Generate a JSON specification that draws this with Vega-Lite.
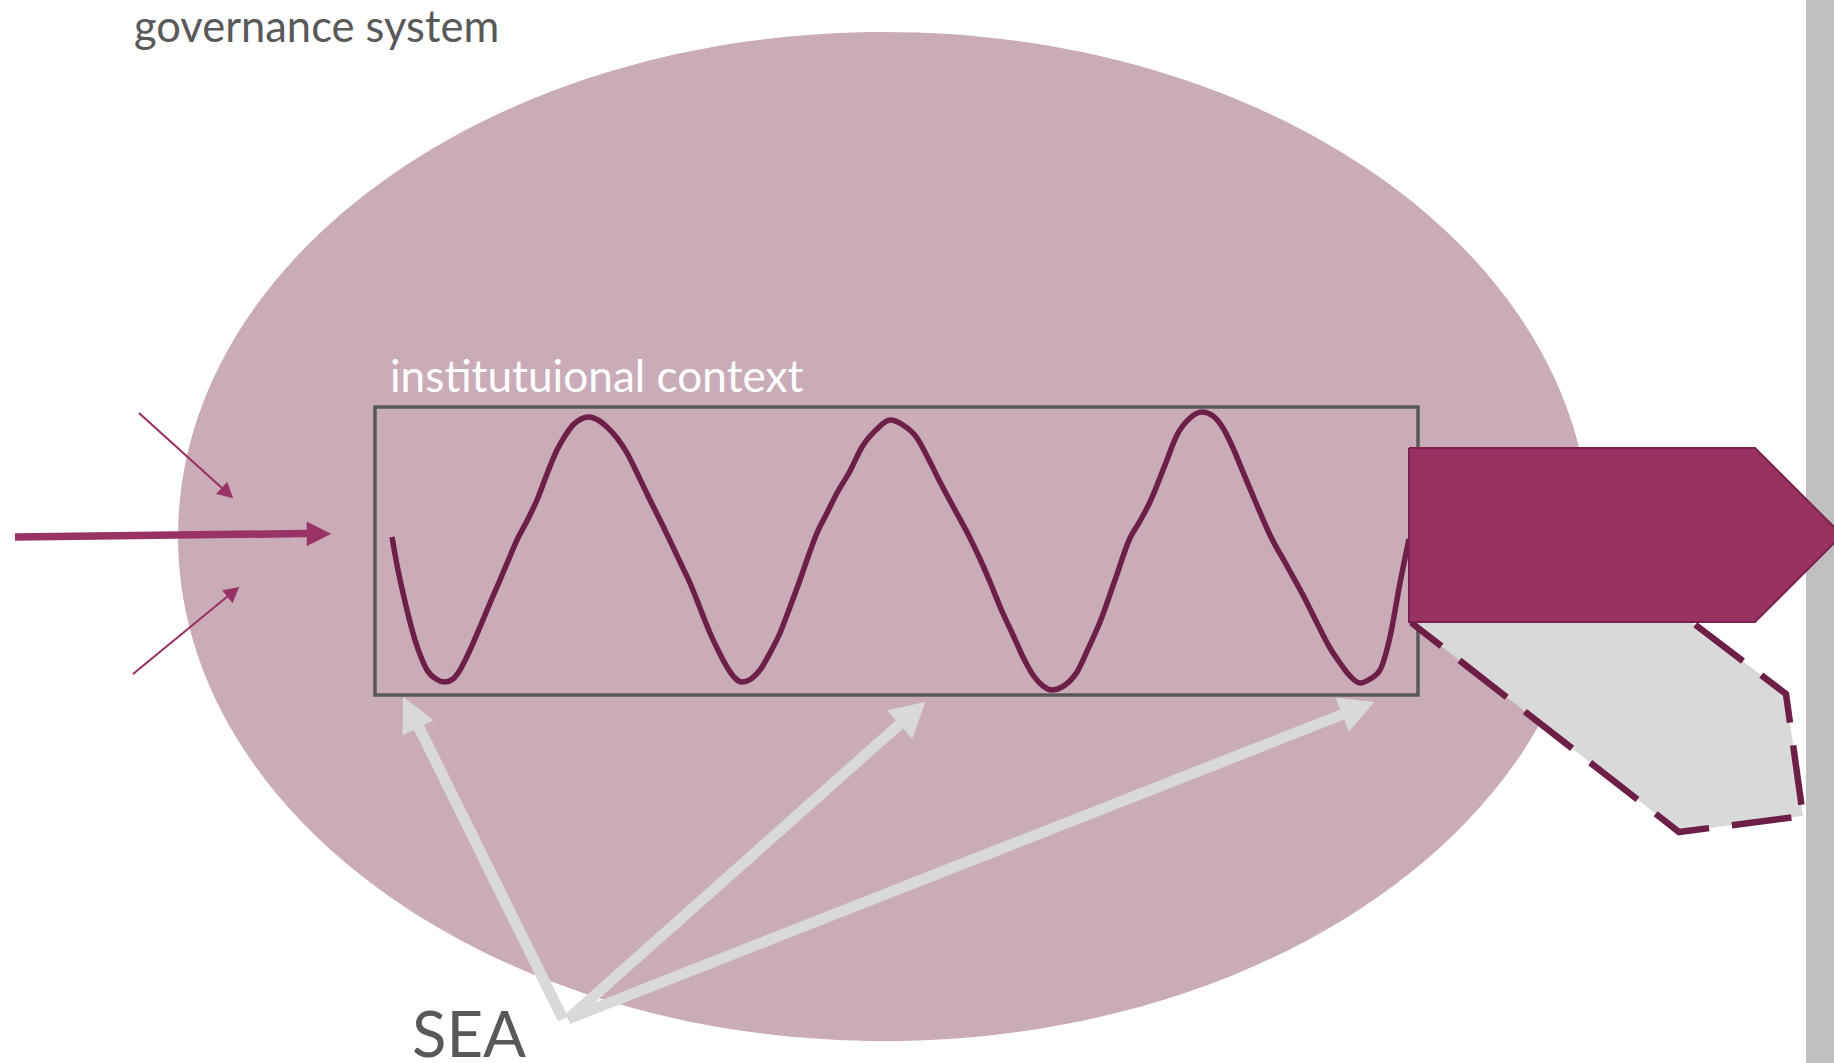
{
  "$schema": "https://vega.github.io/schema/vega-lite/v6.json",
  "width": 1834,
  "height": 1063,
  "autosize": {"type": "none"},
  "padding": 0,
  "background": "white",
  "config": {"view": {"stroke": null}},
  "datasets": {
    "ellipse": [{"name": "governance system", "x": 884, "y": 536.5}],
    "bar": [{"x1": 1806, "x2": 1834, "y1": 0, "y2": 1063}],
    "frame": [{"name": "institutional context", "x1": 375, "x2": 1418, "y1": 407, "y2": 695}],
    "wave": [
      {"x": 392, "y": 537}, {"x": 397, "y": 565}, {"x": 403, "y": 593}, {"x": 409, "y": 618}, {"x": 415, "y": 640},
      {"x": 421, "y": 657}, {"x": 427, "y": 670}, {"x": 436, "y": 679}, {"x": 445, "y": 682}, {"x": 453, "y": 679},
      {"x": 460, "y": 670}, {"x": 470, "y": 650}, {"x": 480, "y": 627}, {"x": 490, "y": 603}, {"x": 500, "y": 580},
      {"x": 508, "y": 561}, {"x": 517, "y": 540}, {"x": 527, "y": 521}, {"x": 537, "y": 500}, {"x": 547, "y": 474},
      {"x": 557, "y": 450}, {"x": 565, "y": 436}, {"x": 573, "y": 425}, {"x": 581, "y": 419}, {"x": 589, "y": 417},
      {"x": 598, "y": 420}, {"x": 607, "y": 427}, {"x": 617, "y": 438}, {"x": 627, "y": 453}, {"x": 638, "y": 475},
      {"x": 650, "y": 500}, {"x": 662, "y": 524}, {"x": 673, "y": 547}, {"x": 681, "y": 564}, {"x": 690, "y": 583},
      {"x": 700, "y": 608}, {"x": 710, "y": 633}, {"x": 719, "y": 652}, {"x": 727, "y": 667}, {"x": 734, "y": 677},
      {"x": 742, "y": 682}, {"x": 751, "y": 679}, {"x": 760, "y": 670}, {"x": 770, "y": 653}, {"x": 780, "y": 633},
      {"x": 790, "y": 607}, {"x": 800, "y": 580}, {"x": 808, "y": 557}, {"x": 817, "y": 533}, {"x": 827, "y": 513},
      {"x": 837, "y": 493}, {"x": 850, "y": 471}, {"x": 862, "y": 447}, {"x": 877, "y": 429}, {"x": 890, "y": 420},
      {"x": 903, "y": 425}, {"x": 917, "y": 438}, {"x": 928, "y": 458}, {"x": 940, "y": 482}, {"x": 955, "y": 510},
      {"x": 970, "y": 538}, {"x": 980, "y": 559}, {"x": 990, "y": 582}, {"x": 1001, "y": 609}, {"x": 1013, "y": 635},
      {"x": 1023, "y": 657}, {"x": 1033, "y": 675}, {"x": 1043, "y": 686}, {"x": 1052, "y": 690}, {"x": 1062, "y": 687},
      {"x": 1077, "y": 672}, {"x": 1088, "y": 649}, {"x": 1100, "y": 622}, {"x": 1115, "y": 580}, {"x": 1130, "y": 538},
      {"x": 1140, "y": 521}, {"x": 1150, "y": 502}, {"x": 1165, "y": 465}, {"x": 1177, "y": 435}, {"x": 1190, "y": 418},
      {"x": 1202, "y": 412}, {"x": 1213, "y": 416}, {"x": 1223, "y": 428}, {"x": 1233, "y": 448}, {"x": 1243, "y": 472},
      {"x": 1256, "y": 503}, {"x": 1270, "y": 535}, {"x": 1287, "y": 566}, {"x": 1303, "y": 595}, {"x": 1316, "y": 621},
      {"x": 1330, "y": 648}, {"x": 1340, "y": 663}, {"x": 1350, "y": 676}, {"x": 1360, "y": 683}, {"x": 1370, "y": 679},
      {"x": 1380, "y": 670}, {"x": 1390, "y": 637}, {"x": 1400, "y": 583}, {"x": 1409, "y": 539}
    ],
    "thickShaft": [{"x": 15, "y": 537, "x2": 308, "y2": 533.5}],
    "thinShafts": [
      {"x": 139, "y": 413, "x2": 222.5, "y2": 488.5},
      {"x": 133, "y": 674, "x2": 228, "y2": 596}
    ],
    "seaShafts": [
      {"x": 563, "y": 1019, "x2": 418.5, "y2": 726.5},
      {"x": 568, "y": 1019, "x2": 900.5, "y2": 723.5},
      {"x": 568, "y": 1019, "x2": 1343.5, "y2": 714}
    ],
    "inHeads": [
      {"id": "h0", "i": 0, "x": 331, "y": 534}, {"id": "h0", "i": 1, "x": 307, "y": 522}, {"id": "h0", "i": 2, "x": 307, "y": 546},
      {"id": "h1", "i": 0, "x": 233, "y": 498}, {"id": "h1", "i": 1, "x": 216.5, "y": 493.8}, {"id": "h1", "i": 2, "x": 227.3, "y": 482},
      {"id": "h2", "i": 0, "x": 239, "y": 587}, {"id": "h2", "i": 1, "x": 232.5, "y": 602.7}, {"id": "h2", "i": 2, "x": 222.3, "y": 590.3}
    ],
    "seaHeads": [
      {"id": "s1", "i": 0, "x": 403, "y": 697}, {"id": "s1", "i": 1, "x": 433.2, "y": 720.2}, {"id": "s1", "i": 2, "x": 402.6, "y": 735},
      {"id": "s2", "i": 0, "x": 925, "y": 702}, {"id": "s2", "i": 1, "x": 912.2, "y": 738.7}, {"id": "s2", "i": 2, "x": 887, "y": 710.3},
      {"id": "s3", "i": 0, "x": 1374, "y": 702}, {"id": "s3", "i": 1, "x": 1349, "y": 731.3}, {"id": "s3", "i": 2, "x": 1335.8, "y": 697.8}
    ],
    "hexagon": [
      {"i": 0, "x": 1413, "y": 600}, {"i": 1, "x": 1413, "y": 624}, {"i": 2, "x": 1679, "y": 832},
      {"i": 3, "x": 1803, "y": 816}, {"i": 4, "x": 1786, "y": 694}, {"i": 5, "x": 1676, "y": 610}
    ],
    "pentagon": [
      {"i": 0, "x": 1409, "y": 448}, {"i": 1, "x": 1755, "y": 448}, {"i": 2, "x": 1842, "y": 535},
      {"i": 3, "x": 1755, "y": 622}, {"i": 4, "x": 1409, "y": 622}, {"i": 5, "x": 1409, "y": 448}
    ]
  },
  "layer": [
    {
      "data": {"name": "ellipse"},
      "mark": {
        "type": "point",
        "shape": "M -1 0 C -1 -0.3947 -0.5523 -0.7146 0 -0.7146 C 0.5523 -0.7146 1 -0.3947 1 0 C 1 0.3947 0.5523 0.7146 0 0.7146 C -0.5523 0.7146 -1 0.3947 -1 0 Z",
        "size": 1993744,
        "filled": true,
        "fill": "#CAACB8",
        "strokeWidth": 0,
        "opacity": 1
      },
      "encoding": {
        "x": {"field": "x", "type": "quantitative", "scale": {"domain": [0, 1834], "nice": false, "zero": false}, "axis": null},
        "y": {"field": "y", "type": "quantitative", "scale": {"domain": [0, 1063], "nice": false, "zero": false, "reverse": true}, "axis": null}
      }
    },
    {
      "data": {"name": "bar"},
      "mark": {"type": "rect", "fill": "#BFBFBF"},
      "encoding": {
        "x": {"field": "x1", "type": "quantitative", "scale": {"domain": [0, 1834], "nice": false, "zero": false}, "axis": null},
        "x2": {"field": "x2"},
        "y": {"field": "y1", "type": "quantitative", "scale": {"domain": [0, 1063], "nice": false, "zero": false, "reverse": true}, "axis": null},
        "y2": {"field": "y2"}
      }
    },
    {
      "data": {"name": "frame"},
      "mark": {"type": "rect", "fill": "transparent", "stroke": "#595959", "strokeWidth": 3.5},
      "encoding": {
        "x": {"field": "x1", "type": "quantitative", "axis": null},
        "x2": {"field": "x2"},
        "y": {"field": "y1", "type": "quantitative", "axis": null},
        "y2": {"field": "y2"}
      }
    },
    {
      "data": {"name": "wave"},
      "mark": {"type": "line", "interpolate": "monotone", "stroke": "#6E1F48", "strokeWidth": 5.5, "strokeCap": "butt"},
      "encoding": {
        "x": {"field": "x", "type": "quantitative", "axis": null},
        "y": {"field": "y", "type": "quantitative", "axis": null}
      }
    },
    {
      "data": {"values": [{"x": 134, "y": 42, "t": "governance system"}]},
      "mark": {"type": "text", "align": "left", "baseline": "alphabetic", "font": "Lato", "fontSize": 43.5, "color": "#595959"},
      "encoding": {
        "x": {"field": "x", "type": "quantitative", "axis": null},
        "y": {"field": "y", "type": "quantitative", "axis": null},
        "text": {"field": "t"}
      }
    },
    {
      "data": {"values": [{"x": 390, "y": 392, "t": "institutuional context"}]},
      "mark": {"type": "text", "align": "left", "baseline": "alphabetic", "font": "Lato", "fontSize": 44.2, "color": "#FFFFFF"},
      "encoding": {
        "x": {"field": "x", "type": "quantitative", "axis": null},
        "y": {"field": "y", "type": "quantitative", "axis": null},
        "text": {"field": "t"}
      }
    },
    {
      "data": {"values": [{"x": 412, "y": 1057, "t": "SEA"}]},
      "mark": {"type": "text", "align": "left", "baseline": "alphabetic", "font": "Lato", "fontSize": 63.5, "color": "#595959"},
      "encoding": {
        "x": {"field": "x", "type": "quantitative", "axis": null},
        "y": {"field": "y", "type": "quantitative", "axis": null},
        "text": {"field": "t"}
      }
    },
    {
      "data": {"name": "thickShaft"},
      "mark": {"type": "rule", "stroke": "#993366", "strokeWidth": 7.5, "strokeCap": "butt"},
      "encoding": {
        "x": {"field": "x", "type": "quantitative", "axis": null},
        "y": {"field": "y", "type": "quantitative", "axis": null},
        "x2": {"field": "x2"},
        "y2": {"field": "y2"}
      }
    },
    {
      "data": {"name": "thinShafts"},
      "mark": {"type": "rule", "stroke": "#993366", "strokeWidth": 2.2, "strokeCap": "butt"},
      "encoding": {
        "x": {"field": "x", "type": "quantitative", "axis": null},
        "y": {"field": "y", "type": "quantitative", "axis": null},
        "x2": {"field": "x2"},
        "y2": {"field": "y2"}
      }
    },
    {
      "data": {"name": "inHeads"},
      "mark": {"type": "line", "fill": "#993366", "stroke": "#993366", "strokeWidth": 0.5, "strokeJoin": "miter"},
      "encoding": {
        "x": {"field": "x", "type": "quantitative", "axis": null},
        "y": {"field": "y", "type": "quantitative", "axis": null},
        "detail": {"field": "id"},
        "order": {"field": "i", "type": "quantitative"}
      }
    },
    {
      "data": {"name": "seaShafts"},
      "mark": {"type": "rule", "stroke": "#D9D9D9", "strokeWidth": 11, "strokeCap": "butt"},
      "encoding": {
        "x": {"field": "x", "type": "quantitative", "axis": null},
        "y": {"field": "y", "type": "quantitative", "axis": null},
        "x2": {"field": "x2"},
        "y2": {"field": "y2"}
      }
    },
    {
      "data": {"name": "seaHeads"},
      "mark": {"type": "line", "fill": "#D9D9D9", "stroke": "#D9D9D9", "strokeWidth": 0.5, "strokeJoin": "miter"},
      "encoding": {
        "x": {"field": "x", "type": "quantitative", "axis": null},
        "y": {"field": "y", "type": "quantitative", "axis": null},
        "detail": {"field": "id"},
        "order": {"field": "i", "type": "quantitative"}
      }
    },
    {
      "data": {"name": "hexagon"},
      "mark": {"type": "line", "fill": "#D9D9D9", "stroke": "#6E1F48", "strokeWidth": 6.5, "strokeDash": [60, 23], "strokeJoin": "miter", "strokeCap": "butt"},
      "encoding": {
        "x": {"field": "x", "type": "quantitative", "axis": null},
        "y": {"field": "y", "type": "quantitative", "axis": null},
        "order": {"field": "i", "type": "quantitative"}
      }
    },
    {
      "data": {"name": "pentagon"},
      "mark": {"type": "line", "fill": "#983261", "stroke": "#7A2350", "strokeWidth": 2, "strokeJoin": "miter"},
      "encoding": {
        "x": {"field": "x", "type": "quantitative", "axis": null},
        "y": {"field": "y", "type": "quantitative", "axis": null},
        "order": {"field": "i", "type": "quantitative"}
      }
    }
  ]
}
